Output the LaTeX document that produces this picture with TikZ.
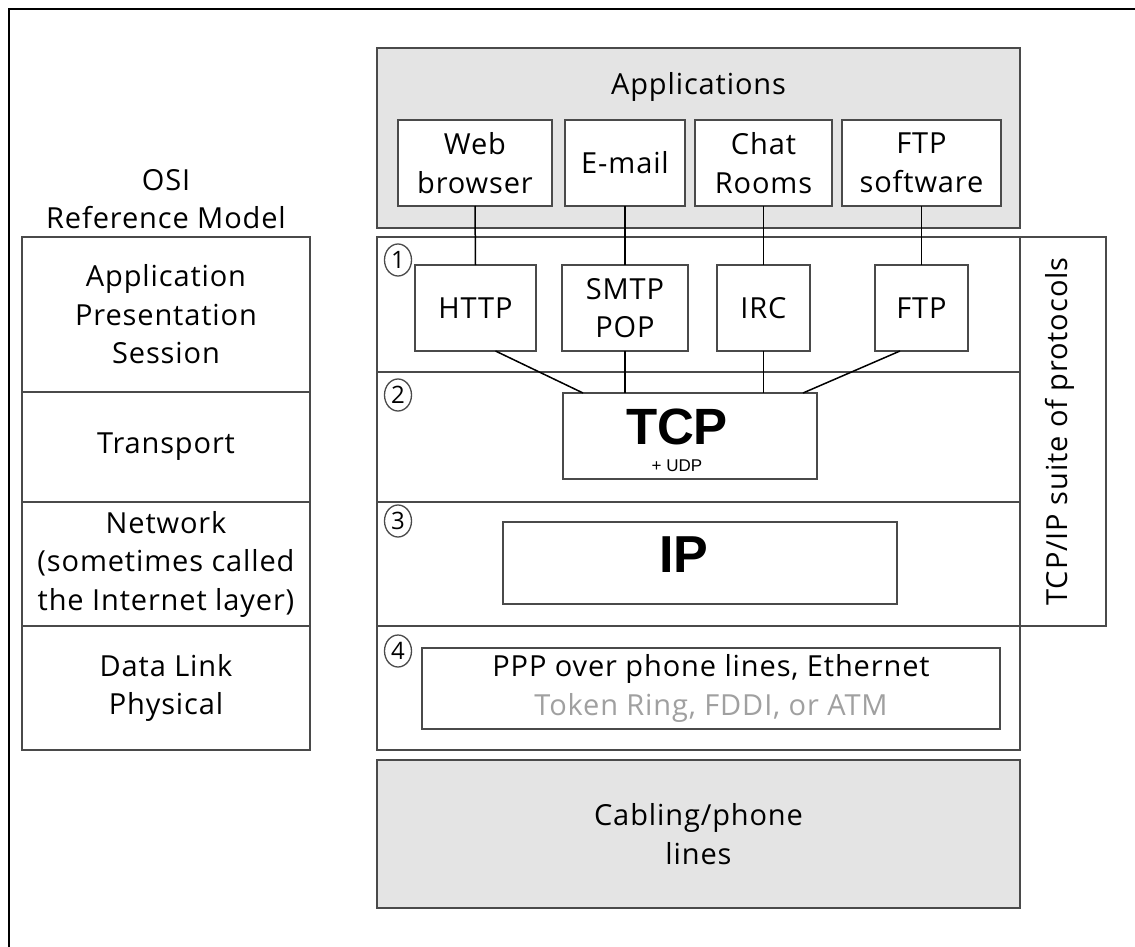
\documentclass[tikz,border=0pt]{standalone}
\usepackage{fontspec}
\usetikzlibrary{shapes.geometric}
\setmainfont{Open Sans}[LetterSpace=3]
\newfontfamily\headfont{Liberation Sans}
\definecolor{edge}{HTML}{4A4A4A}
\definecolor{panel}{HTML}{E4E4E4}
\definecolor{softtext}{HTML}{A0A0A0}
\begin{document}
\begin{tikzpicture}[x=1pt,y=-1pt,
  lbl/.style={font=\fontsize{29}{38.5}\selectfont, align=center, inner sep=0pt},
  box/.style={draw=edge, line width=1.6pt, fill=white, inner sep=0pt, outer sep=0pt,
              align=center, font=\fontsize{29}{38.5}\selectfont},
  grey/.style={box, fill=panel, line width=2pt},
  wire/.style={draw=black, line width=1.5pt},
  num/.style={draw=edge, ellipse, line width=1.3pt, minimum width=27, minimum height=32,
              inner sep=0pt, font=\fontsize{24}{24}\selectfont}]
\useasboundingbox (0,0) rectangle (1135,947);
\fill[white] (0,0) rectangle (1135,947);
% page frame
\draw[line width=1.5pt] (9,947) -- (9,9) -- (1135,9);

% OSI reference model column
\node[lbl] (osititle) at (166,199) {OSI\\Reference Model};
\node[box, minimum width=288, minimum height=155] (osi1) at (166,314.5) {Application\\Presentation\\Session};
\node[box, minimum width=288, minimum height=110] (osi2) at (166,447) {Transport};
\node[box, minimum width=288, minimum height=124] (osi3) at (166,564) {Network\\(sometimes called\\the Internet layer)};
\node[box, minimum width=288, minimum height=124] (osi4) at (166,688) {Data Link\\Physical};

% applications panel
\node[grey, minimum width=643, minimum height=180] (apps) at (698.5,138) {};
\node[lbl] (appstitle) at (698.5,87) {Applications};
\node[box, minimum width=154, minimum height=86] (web) at (475,163) {Web\\browser};
\node[box, minimum width=120, minimum height=86] (email) at (625,163) {E-mail};
\node[box, minimum width=137, minimum height=86] (chat) at (763.5,163) {Chat\\Rooms};
\node[box, minimum width=159, minimum height=86] (ftpsw) at (921.5,163) {FTP\\software};

% TCP/IP layers
\node[box, minimum width=643, minimum height=135] (layer1) at (698.5,304.5) {};
\node[box, minimum width=643, minimum height=130] (layer2) at (698.5,437) {};
\node[box, minimum width=643, minimum height=124] (layer3) at (698.5,564) {};
\node[box, minimum width=643, minimum height=124] (layer4) at (698.5,688) {};
\node[box, minimum width=86, minimum height=389] (suite) at (1063,431.5) {};
\node[lbl, rotate=90] (suitetext) at (1060,431.5) {TCP/IP suite of protocols};

\node[num] (n1) at (398,260) {1};
\node[num] (n2) at (398,395) {2};
\node[num] (n3) at (398,521) {3};
\node[num] (n4) at (398,651) {4};

% protocol boxes
\node[box, minimum width=121, minimum height=86] (http) at (475.5,308) {HTTP};
\node[box, minimum width=126, minimum height=86] (smtp) at (625,308) {SMTP\\POP};
\node[box, minimum width=93, minimum height=86] (irc) at (763.5,308) {IRC};
\node[box, minimum width=93, minimum height=86] (ftp) at (921.5,308) {FTP};

\node[box, minimum width=254, minimum height=86] (tcp) at (690,436) {};
\node[anchor=base, inner sep=0pt, font=\headfont\bfseries\fontsize{51}{51}\selectfont] (tcptext) at (677,444) {TCP};
\node[anchor=base, inner sep=0pt, font=\headfont\fontsize{17}{17}\selectfont] (udptext) at (677,471) {+ UDP};

\node[box, minimum width=394, minimum height=82] (ip) at (700,563) {};
\node[font=\headfont\bfseries\fontsize{52}{52}\selectfont, inner sep=0pt] (iptext) at (684,555) {IP};

\node[box, minimum width=578, minimum height=81] (link) at (711,688.5) {PPP over phone lines, Ethernet\\\textcolor{softtext}{Token Ring, FDDI, or ATM}};

% physical medium
\node[grey, minimum width=643, minimum height=148] (cabling) at (698.5,834) {Cabling/phone\\lines};

% connectors
\draw[wire] (web.south) -- (http.north);
\draw[wire] (email.south) -- (smtp.north);
\draw[wire] (chat.south) -- (irc.north);
\draw[wire] (ftpsw.south) -- (ftp.north);
\draw[wire] ([xshift=20pt]http.south) -- ([xshift=20pt]tcp.north west);
\draw[wire] (smtp.south) -- (smtp.south |- tcp.north);
\draw[wire] (irc.south) -- (irc.south |- tcp.north);
\draw[wire] ([xshift=-21.5pt]ftp.south) -- ([xshift=-14pt]tcp.north east);
\end{tikzpicture}
\end{document}
